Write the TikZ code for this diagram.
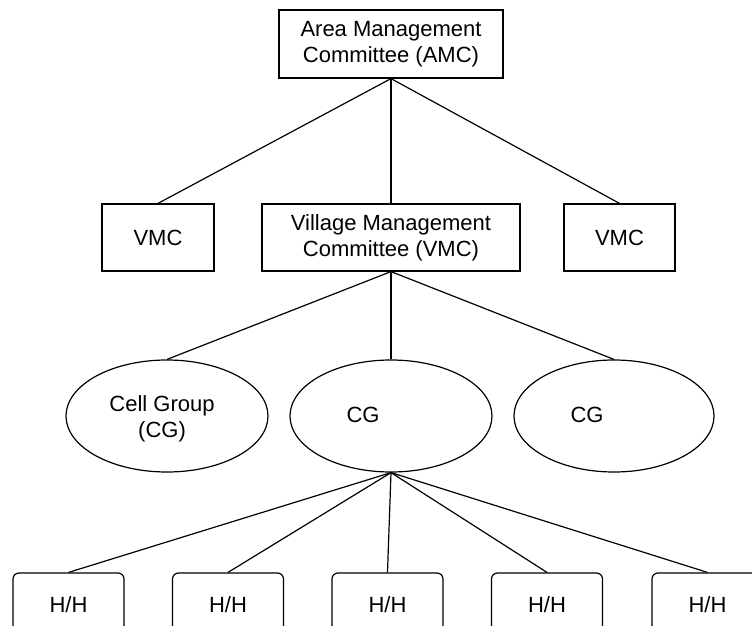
\documentclass[tikz,border=0pt]{standalone}
\usepackage{fontspec}
\setmainfont{Liberation Sans}
\usetikzlibrary{shapes.geometric}
\tikzset{
  box/.style={draw, line width=1.2pt, inner sep=0pt, align=center, font=\fontsize{22}{26}\selectfont},
  oval/.style={draw, ellipse, line width=1.2pt, inner sep=0pt, minimum width=202pt, minimum height=112pt},
  hh/.style={draw, line width=1.2pt, rounded corners=6pt, inner sep=0pt, minimum width=111pt, minimum height=64pt},
  lbl/.style={inner sep=0pt, align=center, font=\fontsize{22}{26}\selectfont},
  link/.style={line width=1.2pt}
}
\begin{document}
\begin{tikzpicture}[x=1pt,y=-1pt]
\clip (0,0) rectangle (752,626);
\fill[white] (0,0) rectangle (752,626);
% top
\node[box, minimum width=224pt, minimum height=68pt] (amc) at (391,44) {Area Management\\Committee (AMC)};
% VMC row
\node[box, minimum width=112pt, minimum height=67pt] (vmcl) at (158,237.5) {VMC};
\node[box, minimum width=258pt, minimum height=67pt] (vmcc) at (391,237.5) {Village Management\\Committee (VMC)};
\node[box, minimum width=111pt, minimum height=67pt] (vmcr) at (619.5,237.5) {VMC};
% CG row
\node[oval] (cgl) at (167,416) {};
\node[oval] (cgc) at (391,416) {};
\node[oval, minimum width=200pt] (cgr) at (614,416) {};
\node[lbl] (cglt) at (162,419) {Cell Group\\(CG)};
\node[lbl] (cgct) at (363,415) {CG};
\node[lbl] (cgrt) at (587,415) {CG};
% H/H row
\node[hh] (h1) at (68.5,605) {};
\node[hh] (h2) at (228,605) {};
\node[hh] (h3) at (387.5,605) {};
\node[hh] (h4) at (547,605) {};
\node[hh] (h5) at (707.5,605) {};
\foreach \i in {1,...,5} {\node[lbl] (h\i t) at (h\i) {H/H};}
% connectors
\draw[link] (amc.south) -- (vmcl.north);
\draw[link] (amc.south) -- (vmcc.north);
\draw[link] (amc.south) -- (vmcr.north);
\draw[link] (vmcc.south) -- (cgl.north);
\draw[link] (vmcc.south) -- (cgc.north);
\draw[link] (vmcc.south) -- (cgr.north);
\foreach \i in {1,...,5} {\draw[link] (cgc.south) -- (h\i.north);}
\end{tikzpicture}
\end{document}
